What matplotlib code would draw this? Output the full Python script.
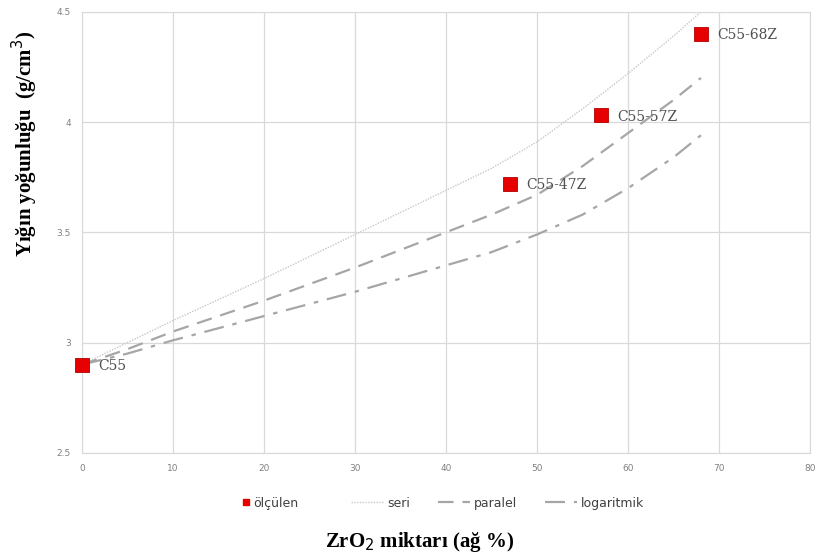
import matplotlib.pyplot as plt
from matplotlib.lines import Line2D

# ölçülen yoğunluklar
olc_x = [0, 47, 57, 68]
olc_y = [2.90, 3.72, 4.03, 4.40]
olc_lbl = ['C55', 'C55-47Z', 'C55-57Z', 'C55-68Z']

# model eğrileri
mx = [0, 5, 10, 20, 30, 40, 45, 50, 55, 60, 65, 68]
seri = [2.90, 3.00, 3.10, 3.29, 3.49, 3.69, 3.79, 3.91, 4.06, 4.22, 4.39, 4.50]
paralel = [2.90, 2.97, 3.05, 3.19, 3.34, 3.50, 3.58, 3.67, 3.80, 3.95, 4.10, 4.20]
logaritmik = [2.90, 2.95, 3.01, 3.12, 3.23, 3.35, 3.41, 3.49, 3.58, 3.70, 3.84, 3.94]

xticks = [0, 10, 20, 30, 40, 50, 60, 70, 80]
yticks = [2.5, 3, 3.5, 4, 4.5]
ytick_lbl = ['2.5', '3', '3.5', '4', '4.5']

fig = plt.figure(figsize=(8.2, 5.59), dpi=100)
ax = fig.add_axes([0.1, 0.19, 0.888, 0.789])

l_seri, = ax.plot(mx, seri, color='#c8c8c8', lw=1.0, ls=(0, (1, 1)), zorder=2)
l_par, = ax.plot(mx, paralel, color='#a6a6a6', lw=1.6, ls=(0, (7, 4)), zorder=2)
l_log, = ax.plot(mx, logaritmik, color='#a6a6a6', lw=1.6, ls=(0, (9, 4, 2, 4)), zorder=2)
ax.plot(olc_x, olc_y, ls='none', marker='s', ms=10, color='#e60000',
        mec='#b00000', mew=0.6, zorder=4, clip_on=False)

for x, y, t in zip(olc_x, olc_y, olc_lbl):
    ax.annotate(t, (x, y), xytext=(12, -1), textcoords='offset points',
                ha='left', va='center', fontsize=10, family='DejaVu Serif',
                color='#505050')

ax.set_xlim(0, 80)
ax.set_ylim(2.5, 4.5)
ax.set_xticks(xticks)
ax.set_yticks(yticks)
ax.set_yticklabels(ytick_lbl)
ax.grid(True, color='#d9d9d9', lw=0.9)
ax.set_axisbelow(True)
for s in ax.spines.values():
    s.set_color('#d9d9d9')
ax.tick_params(length=0, labelsize=6.5, labelcolor='#808080', pad=8)

ax.set_ylabel('Yığın yoğunluğu  (g/cm$^{3}$)', fontsize=15, fontweight='bold',
              family='Liberation Serif')
ax.yaxis.set_label_coords(-0.058, 0.7)
fig.text(0.512, 0.022, 'ZrO$_{2}$ miktarı (ağ %)', ha='center', fontsize=15,
         fontweight='bold', family='Liberation Serif')

# açıklama: işaretçi ve çizgiler ayrı
m_handle = Line2D([], [], ls='none', marker='s', ms=5, color='#e60000')
leg1 = fig.legend([m_handle], ['ölçülen'], loc='center left',
                  bbox_to_anchor=(236 / 820, 0.1), frameon=False, fontsize=9,
                  handlelength=0.6, handletextpad=0.3, borderpad=0)
leg2 = fig.legend([l_seri, l_par, l_log], ['seri', 'paralel', 'logaritmik'],
                  loc='center left', bbox_to_anchor=(345 / 820, 0.1), ncol=3,
                  frameon=False, fontsize=9, handlelength=2.6,
                  handletextpad=0.3, columnspacing=2.2, borderpad=0)
for lg in (leg1, leg2):
    for t in lg.get_texts():
        t.set_color('#404040')

fig.savefig('out.png', dpi=100)
